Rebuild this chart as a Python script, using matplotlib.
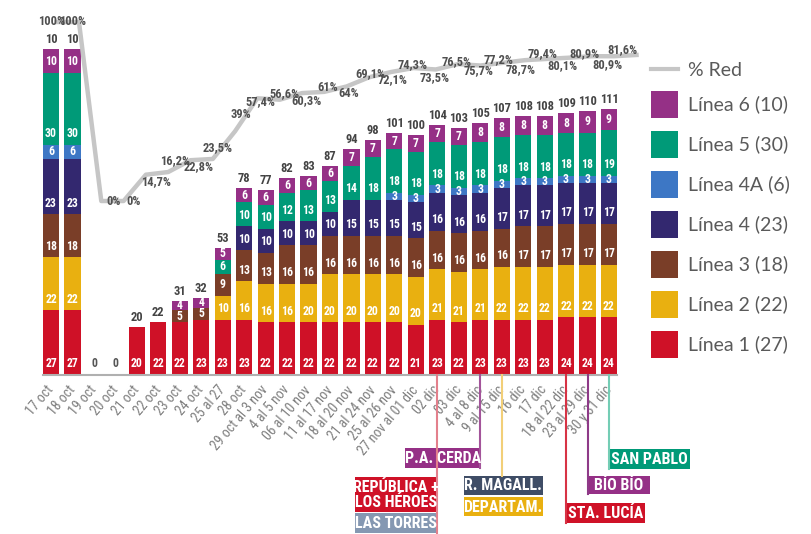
import matplotlib.pyplot as plt
import numpy as np
from matplotlib import font_manager
from matplotlib.lines import Line2D
from matplotlib.patches import Rectangle

# periodos del eje x
periods = ["17 oct", "18 oct", "19 oct", "20 oct", "21 oct", "22 oct", "23 oct", "24 oct",
           "25 al 27", "28 oct", "29 oct al 3 nov", "4 al 5 nov", "06 al 10 nov", "11 al 17 nov",
           "18 al 20 nov", "21 al 24 nov", "25 al 26 nov", "27 nov al 01 dic", "02 dic", "03 dic",
           "4 al 8 dic", "9 al 15 dic", "16 dic", "17 dic", "18 al 22 dic", "23 al 29 dic", "30 y 31 dic"]

# estaciones operativas por linea
linea_1 = [27, 27, 0, 0, 20, 22, 22, 23, 23, 23, 22, 22, 22, 22, 22, 22, 22, 21, 23, 22, 23, 23, 23, 23, 24, 24, 24]
linea_2 = [22, 22, 0, 0, 0, 0, 0, 0, 10, 16, 16, 16, 16, 20, 20, 20, 20, 20, 21, 21, 21, 22, 22, 22, 22, 22, 22]
linea_3 = [18, 18, 0, 0, 0, 0, 5, 5, 9, 13, 13, 16, 16, 16, 16, 16, 16, 16, 16, 16, 16, 16, 17, 17, 17, 17, 17]
linea_4 = [23, 23, 0, 0, 0, 0, 0, 0, 0, 10, 10, 10, 10, 10, 15, 15, 15, 15, 16, 16, 16, 17, 17, 17, 17, 17, 17]
linea_4a = [6, 6, 0, 0, 0, 0, 0, 0, 0, 0, 0, 0, 0, 0, 0, 0, 3, 3, 3, 3, 3, 3, 3, 3, 3, 3, 3]
linea_5 = [30, 30, 0, 0, 0, 0, 0, 0, 6, 10, 10, 12, 13, 13, 14, 18, 18, 18, 18, 18, 18, 18, 18, 18, 18, 18, 19]
linea_6 = [10, 10, 0, 0, 0, 0, 4, 4, 5, 6, 6, 6, 6, 6, 7, 7, 7, 7, 7, 7, 8, 8, 8, 8, 8, 9, 9]

# totales tal como aparecen rotulados
total_labels = ["10", "10", "0", "0", "20", "22", "31", "32", "53", "78", "77", "82", "83", "87",
                "94", "98", "101", "100", "104", "103", "105", "107", "108", "108", "109", "110", "111"]

# % de la red operativa
pct_red = [100, 100, 0, 0, 14.7, 16.2, 22.8, 23.5, 39, 57.4, 56.6, 60.3, 61, 64, 69.1, 72.1,
           74.3, 73.5, 76.5, 75.7, 77.2, 78.7, 79.4, 80.1, 80.9, 80.9, 81.6]

series_names = ["Línea 1 (27)", "Línea 2 (22)", "Línea 3 (18)", "Línea 4 (23)",
                "Línea 4A (6)", "Línea 5 (30)", "Línea 6 (10)"]
series_values = [linea_1, linea_2, linea_3, linea_4, linea_4a, linea_5, linea_6]
series_colors = ["#cf1127", "#e9b010", "#7a3e28", "#33286f", "#3d77c5", "#009a78", "#953086"]
LINE_GRAY = "#c6c6c6"

# rotulo original con errata (barra 06 al 10 nov, Linea 2)
label_override = {(1, 12): "20"}

# desplazamiento (px) de cada rotulo de porcentaje respecto a su punto
pct_offsets = [(-5, 1), (-6, 1), (12, 0), (10, 0), (10, -7), (7, 11), (8, -6), (5, 11), (6, 17),
               (3, -3), (5, 6), (5, -8), (3, 4), (2, -7), (1, 4), (1, -8), (-1, 3), (-1, -8),
               (-1, 3), (-2, -5), (-4, 3), (-4, -9), (-5, 5), (-7, -8), (-7, 3), (-7, -8), (-14, 5)]


def pick_narrow_font():
    """Busca una fuente condensada instalada; si no hay, usa Roboto."""
    fonts = font_manager.fontManager.ttflist
    names = {f.name for f in fonts}
    for cand in ["Liberation Sans Narrow", "Roboto Condensed", "Open Sans Condensed",
                 "Noto Sans Condensed", "DejaVu Sans Condensed"]:
        if cand in names:
            return dict(family=cand)
    for f in fonts:
        if f.name == "DejaVu Sans" and f.stretch in ("condensed", 300):
            return dict(family="DejaVu Sans", stretch="condensed")
    return dict(family="Roboto")


NARROW = pick_narrow_font()

fig = plt.figure(figsize=(8.11, 5.34), dpi=100)
rect = [0.053, 0.2978, 0.7078, 0.674]
ax = fig.add_axes(rect)

x = np.arange(len(periods))
bottom = np.zeros(len(periods))
for k, (vals, color) in enumerate(zip(series_values, series_colors)):
    vals = np.array(vals, dtype=float)
    ax.bar(x, vals, 0.75, bottom=bottom, color=color, linewidth=0)
    for i in range(len(x)):
        if vals[i] > 0:
            txt = label_override.get((k, i), str(int(vals[i])))
            ax.text(x[i], bottom[i] + min(vals[i] / 2, 4.6), txt, ha="center", va="center",
                    color="white", fontsize=8.5, fontweight="bold", **NARROW)
    bottom += vals

for i, lab in enumerate(total_labels):
    if bottom[i] == 0:
        ax.text(x[i], 4.6, lab, ha="center", va="center", color="#555555",
                fontsize=8.5, fontweight="bold", **NARROW)
    else:
        ax.annotate(lab, (x[i], bottom[i]), xytext=(0, 3), textcoords="offset pixels",
                    ha="center", va="bottom", color="#444444", fontsize=9,
                    fontweight="bold", **NARROW)

ax.set_xlim(-0.375, len(periods) - 0.625)
ax.set_ylim(0, 150)
for s in ["top", "right", "left"]:
    ax.spines[s].set_visible(False)
ax.spines["bottom"].set_color("#b0b0b0")
ax.spines["bottom"].set_linewidth(1.5)
ax.set_yticks([])
ax.set_xticks(x)
ax.set_xticklabels(periods, rotation=50, ha="right", va="center", rotation_mode="anchor",
                   color="#7f7f7f", fontsize=10, **NARROW)
ax.tick_params(axis="x", length=0, pad=9)

# linea de % red (capa superpuesta con su propia escala)
axl = fig.add_axes(rect)
axl.set_xlim(-0.614, 25.126)
axl.set_ylim(-97.2, 103.9)
axl.axis("off")
px = np.arange(len(pct_red))
axl.plot(px, pct_red, color=LINE_GRAY, lw=3.2, clip_on=False)
for i, v in enumerate(pct_red):
    txt = f"{v:g}".replace(".", ",") + "%"
    dx, dy = pct_offsets[i]
    axl.annotate(txt, (px[i], v), xytext=(dx, dy), textcoords="offset pixels",
                 ha="center", va="center", color="#505050", fontsize=9,
                 fontweight="bold", annotation_clip=False, **NARROW)

# capa en pixeles para leyenda y notas de estaciones
ann = fig.add_axes([0, 0, 1, 1])
ann.set_xlim(0, 811)
ann.set_ylim(534, 0)
ann.axis("off")

ann.add_line(Line2D([651, 678], [69, 69], color=LINE_GRAY, lw=3))
ann.text(688, 71, "% Red", va="center", ha="left", color="#5a5a5a", fontsize=14, family="Lato")
for j, k in enumerate(range(len(series_names) - 1, -1, -1)):
    yc = 104 + 40 * j
    ann.add_patch(Rectangle((651, yc - 13.5), 27, 27, color=series_colors[k], lw=0))
    ann.text(688, yc, series_names[k], va="center", ha="left", color="#5a5a5a",
             fontsize=14, family="Lato")

base_y = 534 - ax.transData.transform((0, 0))[1]
station_notes = [
    (18, "#e3808c", 534, [("REPÚBLICA +\nLOS HÉROES", "#cf1127", -82, 82, 477, 35),
                          ("LAS TORRES", "#8598b2", -82, 82, 513, 20)]),
    (20, "#a3549a", 468, [("P.A. CERDA", "#953086", -75, 75, 448, 20)]),
    (21, "#f2cf78", 476, [("R. MAGALL.", "#3f4d66", -38, 79, 476, 19),
                          ("DEPARTAM.", "#e9b010", -38, 79, 497, 19)]),
    (24, "#d73345", 523, [("STA. LUCÍA", "#cf1127", 0, 79, 503, 20)]),
    (25, "#8e3a88", 494, [("BÍO BÍO", "#953086", 0, 62, 476, 18)]),
    (26, "#74cdb5", 469, [("SAN PABLO", "#009a78", 0, 81, 449, 20)]),
]
for idx, lcolor, y_end, boxes in station_notes:
    xl = ax.transData.transform((idx, 0))[0]
    ann.add_line(Line2D([xl, xl], [base_y, y_end], color=lcolor, lw=1.5))
    for text, bcolor, x0, w, y0, h in boxes:
        ann.add_patch(Rectangle((xl + x0, y0), w, h, color=bcolor, lw=0))
        ann.text(xl + x0 + w / 2, y0 + h / 2 + 0.5, text, ha="center", va="center",
                 color="white", fontsize=11.5, fontweight="bold", linespacing=1.0, **NARROW)

fig.savefig("out.png", dpi=100)
